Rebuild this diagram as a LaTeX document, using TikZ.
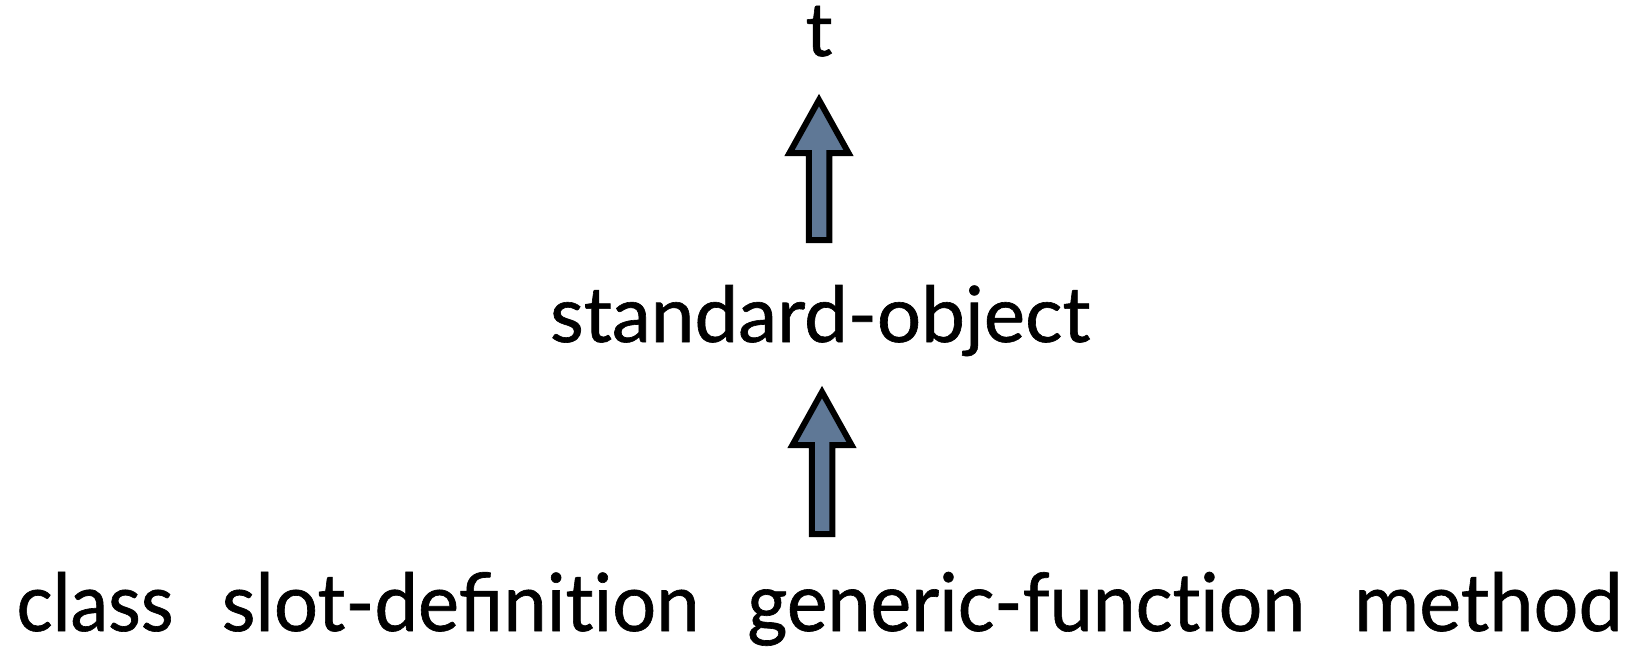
\documentclass[tikz,border=0pt]{standalone}
\usepackage{fontspec}
\setmainfont{Lato}[Ligatures=NoCommon, FakeBold=0.8]
\usepackage{graphicx}
\definecolor{slate}{HTML}{5F7896}
\tikzset{
  txt/.style={inner sep=0pt, outer sep=0pt, anchor=base west},
  % block arrow pointing up, from a tail coordinate to a tip coordinate
  upblock/.style={draw=black, line width=6pt, fill=slate, line join=miter, miter limit=10,
    to path={([xshift=-10.25pt]\tikztostart)
      -- ([xshift=-10.25pt,yshift=-53pt]\tikztotarget)
      -- ([xshift=-29.5pt,yshift=-53pt]\tikztotarget)
      -- (\tikztotarget)
      -- ([xshift=29.5pt,yshift=-53pt]\tikztotarget)
      -- ([xshift=10.25pt,yshift=-53pt]\tikztotarget)
      -- ([xshift=10.25pt]\tikztostart) -- cycle}}
}
\begin{document}
\begin{tikzpicture}[x=1pt,y=-1pt]
  \fill[white] (0,0) rectangle (1632,649);
  \useasboundingbox (0,0) rectangle (1632,649);

  % class names
  \node[txt, anchor=base] (t) at (819,56) {\resizebox{!}{50pt}{t}};
  \node[txt] (std) at (550,342) {\resizebox{540pt}{57pt}{standard-object}};
  \node[txt] (cls) at (16.5,631) {\resizebox{157pt}{59pt}{class}};
  \node[txt] (slot) at (221.8,631) {\resizebox{477.5pt}{59pt}{slot-de^^^^fb01nition}};
  \node[txt] (gf) at (747.4,631) {\resizebox{557.6pt}{59pt}{generic-function}};
  \node[txt] (meth) at (1354,631) {\resizebox{268.5pt}{59pt}{method}};

  % arrow end points
  \coordinate (tipA) at (819,100);
  \coordinate (tailA) at (819,240);
  \coordinate (tipB) at (822,392);
  \coordinate (tailB) at (822,534);

  \draw[upblock] (tailA) to (tipA);
  \draw[upblock] (tailB) to (tipB);
\end{tikzpicture}
\end{document}
